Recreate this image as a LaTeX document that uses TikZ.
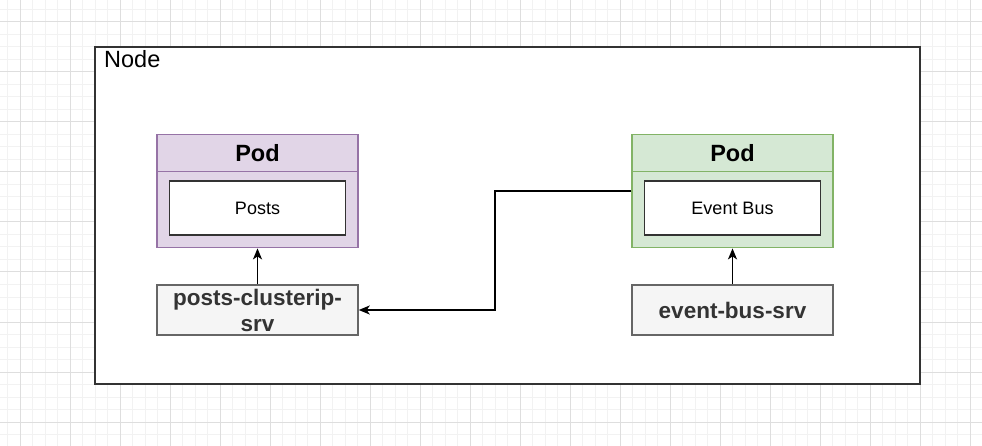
\documentclass[tikz,border=0pt]{standalone}
\usepackage{fontspec}
\setmainfont{Liberation Sans}
\usetikzlibrary{arrows.meta}
\definecolor{purfill}{HTML}{E1D5E7}
\definecolor{purline}{HTML}{9673A6}
\definecolor{grnfill}{HTML}{D5E8D4}
\definecolor{grnline}{HTML}{82B366}
\definecolor{svcfill}{HTML}{F5F5F5}
\definecolor{svcline}{HTML}{666666}
\definecolor{svctext}{HTML}{333333}
\definecolor{boxline}{HTML}{333333}
\definecolor{gridminor}{HTML}{F2F2F2}
\definecolor{gridmajor}{HTML}{DEDEDE}
\tikzset{
  podbody/.style={draw, line width=1.2pt, minimum width=201pt, minimum height=113pt, inner sep=0pt},
  podhead/.style={draw, line width=1.2pt, minimum width=201pt, minimum height=37pt, inner sep=0pt, font=\fontsize{23.5}{28}\selectfont\bfseries},
  appbox/.style={draw=boxline, fill=white, line width=1.8pt, minimum width=176pt, minimum height=54pt, inner sep=0pt, font=\fontsize{18}{22}\selectfont},
  svcbox/.style={draw=svcline, fill=svcfill, line width=1.5pt, minimum width=201pt, minimum height=50pt, inner sep=0pt, text=svctext, align=center, font=\fontsize{22.5}{26}\selectfont\bfseries},
  conn/.style={draw=black, line width=1.8pt, -{Stealth[length=11pt,width=9pt,inset=3pt]}},
}
\begin{document}
\begin{tikzpicture}[x=1pt,y=-1pt]
\useasboundingbox (0,0) rectangle (982,446);
\fill[white] (0,0) rectangle (982,446);
% grid
\foreach \i in {0,...,78} {
  \draw[gridminor, line width=1pt] ({7.5+12.5*\i},0) -- ({7.5+12.5*\i},446);
}
\foreach \i in {0,...,35} {
  \draw[gridminor, line width=1pt] (0,{9.5+12.5*\i}) -- (982,{9.5+12.5*\i});
}
\foreach \i in {0,...,19} {
  \draw[gridmajor, line width=1pt] ({20+50*\i},0) -- ({20+50*\i},446);
}
\foreach \i in {0,...,8} {
  \draw[gridmajor, line width=1pt] (0,{22+50*\i}) -- (982,{22+50*\i});
}
% outer node box
\node[draw=boxline, fill=white, line width=2pt, minimum width=825pt, minimum height=337pt, inner sep=0pt] (outer) at (507.5,215.5) {};
\node[anchor=base west, font=\fontsize{23.5}{28}\selectfont, inner sep=0pt] (nodelabel) at (104,68) {Node};
% left pod
\node[podbody, draw=purline, fill=purfill] (podL) at (257.5,191.3) {};
\node[podhead, draw=purline, fill=purfill, anchor=north] (podLh) at (podL.north) {Pod};
\node[appbox] (posts) at (257.5,208.2) {Posts};
% right pod
\node[podbody, draw=grnline, fill=grnfill] (podR) at (732.5,191.3) {};
\node[podhead, draw=grnline, fill=grnfill, anchor=north] (podRh) at (podR.north) {Pod};
\node[appbox] (evbus) at (732.5,208.2) {Event Bus};
% services
\node[svcbox] (svcL) at (257.5,310) {posts-clusterip-\\srv};
\node[svcbox] (svcR) at (732.5,310) {event-bus-srv};
% connectors
\draw[conn] (svcL.north) -- (podL.south);
\draw[conn] (svcR.north) -- (podR.south);
\coordinate (bend) at (495,191.3);
\draw[conn] (podR.west) -- (bend) |- (svcL.east);
\end{tikzpicture}
\end{document}
